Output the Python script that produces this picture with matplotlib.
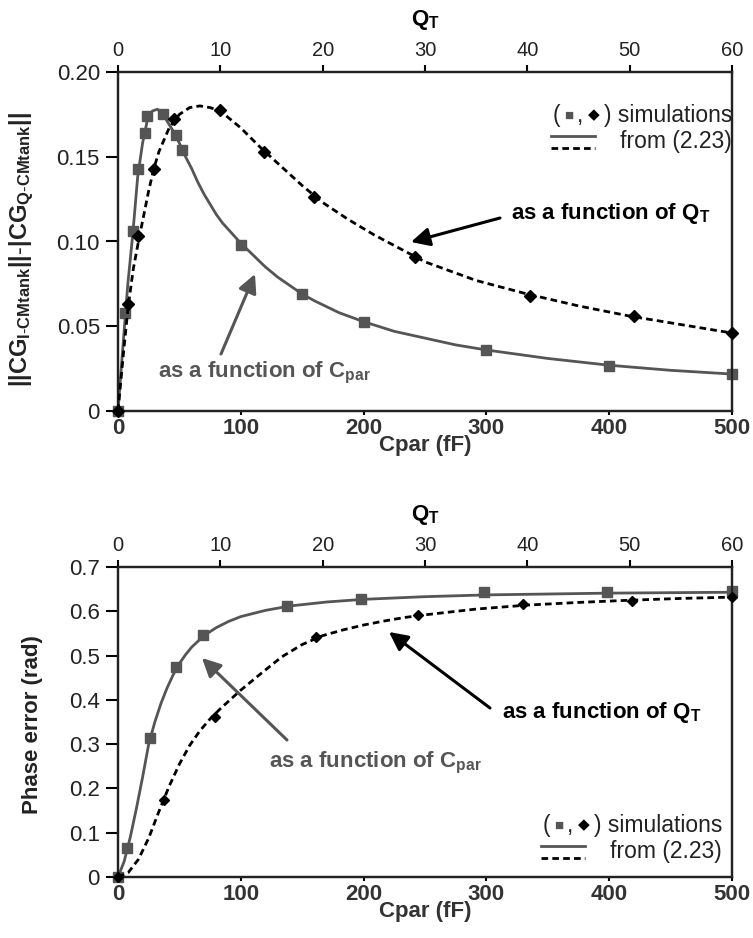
import matplotlib
matplotlib.use("Agg")
import matplotlib.pyplot as plt
from matplotlib.offsetbox import TextArea, HPacker, VPacker, DrawingArea, AnchoredOffsetbox
from matplotlib.lines import Line2D
from matplotlib.patches import FancyArrowPatch

plt.rcParams["font.family"] = ["Liberation Sans", "DejaVu Sans"]
plt.rcParams["mathtext.fontset"] = "custom"
plt.rcParams["mathtext.rm"] = "Liberation Sans"
plt.rcParams["mathtext.bf"] = "Liberation Sans:bold"
plt.rcParams["mathtext.it"] = "Liberation Sans:italic"

GRAY = "#555555"

# ---- top panel: ||CG_I|| - ||CG_Q|| ----
mag_sim_cpar = [0, 6, 12.5, 16.5, 22, 24, 37, 47, 52.5, 100, 150, 200, 300, 400, 500]
mag_sim_cpar_val = [0, 0.058, 0.106, 0.143, 0.164, 0.174, 0.175, 0.163, 0.154, 0.098,
                    0.069, 0.0527, 0.036, 0.0267, 0.0218]
mag_sim_q = [0, 1, 2, 3.5, 5.5, 10, 14.3, 19.2, 29, 40.3, 50.4, 60]
mag_sim_q_val = [0, 0.063, 0.103, 0.143, 0.172, 0.1776, 0.153, 0.126, 0.0907, 0.068,
                 0.056, 0.0458]

mag_eq_cpar = [0, 4, 8, 12, 16, 20, 24, 28, 32, 36, 40, 45, 50, 55, 60, 65, 70, 75, 80,
               85, 90, 95, 100, 110, 120, 130, 140, 150, 160, 180, 200, 225, 250, 275,
               300, 350, 400, 450, 500]
mag_eq_cpar_val = [0, 0.038, 0.075, 0.104, 0.138, 0.158, 0.172, 0.177, 0.178, 0.176,
                   0.171, 0.165, 0.158, 0.15, 0.143, 0.135, 0.128, 0.122, 0.116, 0.111,
                   0.107, 0.103, 0.099, 0.092, 0.085, 0.079, 0.074, 0.069, 0.065, 0.058,
                   0.0527, 0.047, 0.043, 0.039, 0.036, 0.031, 0.027, 0.024, 0.0218]
mag_eq_q = [0, 0.5, 1, 1.5, 2, 2.5, 3, 3.5, 4, 5, 6, 7, 8, 9, 10, 12, 14, 16, 18, 20,
            22.5, 25, 27.5, 30, 35, 40, 45, 50, 55, 60]
mag_eq_q_val = [0, 0.032, 0.062, 0.084, 0.1, 0.115, 0.13, 0.143, 0.153, 0.167, 0.175,
                0.179, 0.18, 0.179, 0.177, 0.167, 0.155, 0.144, 0.133, 0.123, 0.113,
                0.104, 0.096, 0.088, 0.077, 0.069, 0.062, 0.056, 0.051, 0.046]

# ---- bottom panel: phase error ----
ph_sim_cpar = [0, 7.5, 26, 47.5, 69, 138, 198, 298, 398, 500]
ph_sim_cpar_val = [0, 0.065, 0.315, 0.475, 0.546, 0.612, 0.627, 0.643, 0.644, 0.6457]
ph_sim_q = [0, 4.5, 9.5, 19.3, 29.3, 39.6, 50.2, 60]
ph_sim_q_val = [0, 0.174, 0.362, 0.543, 0.592, 0.616, 0.624, 0.633]

ph_eq_cpar = [0, 5, 10, 15, 20, 25, 30, 35, 40, 45, 50, 55, 60, 70, 80, 90, 100, 120,
              140, 170, 200, 250, 300, 400, 500]
ph_eq_cpar_val = [0, 0.035, 0.09, 0.155, 0.225, 0.3, 0.35, 0.392, 0.427, 0.457, 0.482,
                  0.502, 0.519, 0.545, 0.563, 0.577, 0.588, 0.602, 0.612, 0.621, 0.627,
                  0.633, 0.637, 0.641, 0.643]
ph_eq_q = [0, 1, 2, 3, 4, 5, 6, 7, 8, 9, 10, 12, 14, 16, 18, 20, 22, 24, 26, 28, 30,
           35, 40, 45, 50, 55, 60]
ph_eq_q_val = [0, 0.01, 0.04, 0.088, 0.148, 0.205, 0.255, 0.297, 0.33, 0.357, 0.38,
               0.422, 0.46, 0.497, 0.525, 0.545, 0.558, 0.569, 0.578, 0.586, 0.592,
               0.605, 0.614, 0.62, 0.625, 0.629, 0.632]

cpar_ticks = [0, 100, 200, 300, 400, 500]
q_ticks = [0, 10, 20, 30, 40, 50, 60]
mag_yticks = [0, 0.05, 0.10, 0.15, 0.20]
mag_ylabels = ["0", "0.05", "0.10", "0.15", "0.20"]
ph_yticks = [0, 0.1, 0.2, 0.3, 0.4, 0.5, 0.6, 0.7]
ph_ylabels = ["0", "0.1", "0.2", "0.3", "0.4", "0.5", "0.6", "0.7"]

W, H = 753, 938
fig = plt.figure(figsize=(W / 100, H / 100), dpi=100)


def px(x, y):
    # reference pixel (top-left origin) -> figure pixels
    return (x, H - y)


def make_panel(top, bottom, ylim, yticks, ylabels):
    ax = fig.add_axes([118 / W, 1 - bottom / H, 614 / W, (bottom - top) / H])
    ax.set_xlim(0, 500)
    ax.set_ylim(*ylim)
    ax.set_xticks(cpar_ticks)
    ax.set_xticklabels([str(t) for t in cpar_ticks], fontweight="bold", fontsize=16,
                       color="#333333")
    ax.set_yticks(yticks)
    ax.set_yticklabels(ylabels, fontsize=16, color="#222222")
    ax.tick_params(axis="x", direction="out", length=3, width=1.5, pad=2)
    ax.tick_params(axis="y", direction="out", length=9, width=1.5, pad=4)
    for s in ax.spines.values():
        s.set_linewidth(1.6)
        s.set_color("#222222")
    axq = ax.twiny()
    axq.set_xlim(0, 60)
    axq.set_xticks(q_ticks)
    axq.set_xticklabels([str(t) for t in q_ticks], fontsize=14.5, color="#222222")
    axq.tick_params(axis="x", direction="out", length=5, width=1.5, pad=4)
    for s in axq.spines.values():
        s.set_linewidth(1.6)
        s.set_color("#222222")
    return ax, axq


def draw(ax, axq, eq_c, eq_c_val, sim_c, sim_c_val, eq_q, eq_q_val, sim_q, sim_q_val, dsize):
    ax.plot(eq_c, eq_c_val, color=GRAY, lw=2.0, zorder=3, clip_on=False)
    ax.plot(sim_c, sim_c_val, ls="none", marker="s", ms=7, color=GRAY, zorder=4,
            clip_on=False)
    axq.plot(eq_q, eq_q_val, color="black", lw=2.0, ls=(0, (2.4, 1.5)), zorder=3,
             clip_on=False)
    axq.plot(sim_q, sim_q_val, ls="none", marker="D", ms=dsize, color="black", zorder=4,
             clip_on=False)


def sim_key(anchor):
    row1 = HPacker(children=[
        TextArea("(", textprops=dict(fontsize=16.5, color="#222222")),
        TextArea("\u25a0", textprops=dict(fontsize=11, color=GRAY)),
        TextArea(",", textprops=dict(fontsize=16.5, color="#222222")),
        TextArea("\u25c6", textprops=dict(fontsize=11, color="black")),
        TextArea(") simulations", textprops=dict(fontsize=16.5, color="#222222")),
    ], align="center", pad=0, sep=3)
    da = DrawingArea(32, 14, 0, 0)
    da.add_artist(Line2D([0, 32], [11, 11], color=GRAY, lw=2))
    da.add_artist(Line2D([0, 32], [2, 2], color="black", lw=2, ls=(0, (2.4, 1.5))))
    row2 = HPacker(children=[da, TextArea("from (2.23)",
                                          textprops=dict(fontsize=16.5, color="#222222"))],
                   align="center", pad=0, sep=18)
    box = VPacker(children=[row1, row2], align="right", pad=0, sep=2)
    ab = AnchoredOffsetbox(loc="upper right", child=box, pad=0, borderpad=0, frameon=False,
                           bbox_to_anchor=(anchor[0] / W, 1 - anchor[1] / H),
                           bbox_transform=fig.transFigure)
    fig.add_artist(ab)


def note(text, xy_text, xy_head, tail, color):
    fig.text(xy_text[0] / W, 1 - xy_text[1] / H, text, ha="left", va="center",
             fontsize=16, fontweight="bold", color=color)
    fig.add_artist(FancyArrowPatch(
        px(*tail), px(*xy_head), transform=None, arrowstyle="-|>", mutation_scale=28,
        lw=2.2, color=color, shrinkA=0, shrinkB=0))


# top panel
ax1, ax1q = make_panel(72, 411, (0, 0.20), mag_yticks, mag_ylabels)
draw(ax1, ax1q, mag_eq_cpar, mag_eq_cpar_val, mag_sim_cpar, mag_sim_cpar_val,
     mag_eq_q, mag_eq_q_val, mag_sim_q, mag_sim_q_val, 6)
fig.text(425 / W, 1 - 20 / H, r"$\mathbf{Q_T}$", ha="center", va="center", fontsize=16)
fig.text(425 / W, 1 - 445 / H, "Cpar (fF)", ha="center", va="center", fontsize=16,
         fontweight="bold", color="#333333")
fig.text(22 / W, 1 - 250 / H,
         r"$\mathbf{||CG_{I\text{-}CMtank}||\text{-}|CG_{Q\text{-}CMtank}||}$",
         ha="center", va="center", rotation=90, fontsize=17, color="#222222")
sim_key((732, 104))
note(r"as a function of Q$_\mathbf{T}$", (511, 213), (411, 242), (500, 218), "black")
note(r"as a function of C$_\mathbf{par}$", (158, 373), (255, 274), (221, 354), GRAY)

# bottom panel
ax2, ax2q = make_panel(567, 877, (0, 0.7), ph_yticks, ph_ylabels)
draw(ax2, ax2q, ph_eq_cpar, ph_eq_cpar_val, ph_sim_cpar, ph_sim_cpar_val,
     ph_eq_q, ph_eq_q_val, ph_sim_q, ph_sim_q_val, 5)
fig.text(425 / W, 1 - 515 / H, r"$\mathbf{Q_T}$", ha="center", va="center", fontsize=16)
fig.text(425 / W, 1 - 911 / H, "Cpar (fF)", ha="center", va="center", fontsize=16,
         fontweight="bold", color="#333333")
fig.text(33 / W, 1 - 725 / H, "Phase error (rad)", ha="center", va="center",
         rotation=90, fontsize=16, fontweight="bold", color="#222222")
sim_key((722, 814))
note(r"as a function of Q$_\mathbf{T}$", (502, 712), (389, 632), (490, 708), "black")
note(r"as a function of C$_\mathbf{par}$", (269, 763), (202, 658), (287, 740), GRAY)

fig.savefig("out.png", dpi=100)
